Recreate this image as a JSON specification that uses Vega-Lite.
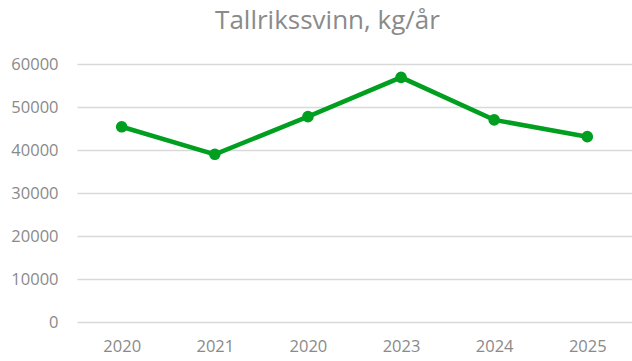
{
  "$schema": "https://vega.github.io/schema/vega-lite/v6.json",
  "autosize": "none",
  "width": 555,
  "height": 258,
  "padding": {"left": 77, "top": 64, "right": 0, "bottom": 39},
  "background": "white",
  "title": {
    "text": "Tallrikssvinn, kg/år",
    "font": "Open Sans",
    "fontSize": 26,
    "fontWeight": "normal",
    "color": "#8a8a8a",
    "anchor": "middle",
    "frame": "group",
    "dx": -27,
    "offset": 22
  },
  "config": {
    "view": {"stroke": null},
    "axis": {
      "labelFont": "Open Sans",
      "labelFontSize": 16.5,
      "labelColor": "#8a8a8a",
      "domain": false,
      "ticks": false,
      "title": null
    }
  },
  "data": {
    "values": [
      {"år": "2020", "kg": 45400},
      {"år": "2021", "kg": 39000},
      {"år": "2020 ", "kg": 47750},
      {"år": "2023", "kg": 56900},
      {"år": "2024", "kg": 47000},
      {"år": "2025", "kg": 43100}
    ]
  },
  "encoding": {
    "x": {
      "field": "år",
      "type": "ordinal",
      "sort": null,
      "scale": {"type": "point", "padding": 0.48},
      "axis": {"labelAngle": 0, "labelPadding": 16, "grid": false, "labelExpr": "trim(datum.value)"}
    },
    "y": {
      "field": "kg",
      "type": "quantitative",
      "scale": {"domain": [0, 60000], "nice": false},
      "axis": {
        "values": [0, 10000, 20000, 30000, 40000, 50000, 60000],
        "format": "d",
        "labelPadding": 19,
        "grid": true,
        "gridColor": "#d9d9d9",
        "gridWidth": 1.3
      }
    }
  },
  "layer": [
    {"mark": {"type": "line", "color": "#009f20", "strokeWidth": 4.5}},
    {"mark": {"type": "point", "filled": true, "opacity": 1, "color": "#009f20", "size": 135}}
  ]
}
